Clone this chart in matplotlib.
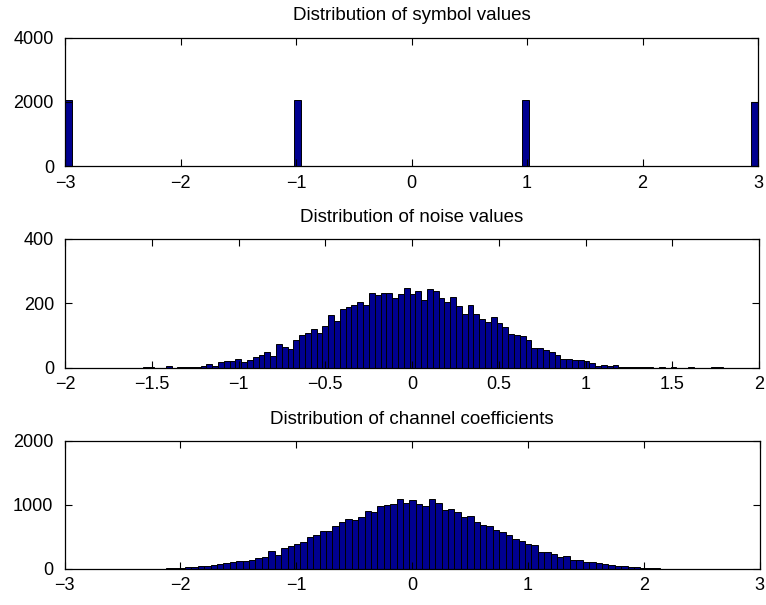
import numpy as np
import matplotlib
matplotlib.use('Agg')
import matplotlib.pyplot as plt

plt.rcParams['font.family'] = ['Liberation Sans', 'DejaVu Sans']

# symbol values: hist with 100 bins over [-3, 3]
symbol_lo, symbol_hi = -3.0, 3.0
symbol_values = [-3, -1, 1, 3]
symbol_counts = [2060, 2058, 2066, 1995]

# noise values: 100 bins between min and max of the samples
noise_lo, noise_hi = -1.553, 1.792
noise_counts = [
    1, 1, 0, 0, 4, 0, 1, 2, 3, 3,
    5, 12, 6, 17, 19, 21, 25, 17, 23, 32,
    38, 48, 35, 74, 64, 59, 87, 100, 108, 119,
    107, 129, 164, 144, 181, 187, 194, 205, 195, 231,
    226, 232, 232, 216, 229, 249, 229, 237, 209, 245,
    238, 216, 203, 221, 191, 167, 195, 165, 151, 142,
    158, 140, 125, 105, 102, 98, 87, 61, 62, 55,
    48, 39, 26, 26, 23, 22, 21, 15, 5, 8,
    6, 8, 2, 1, 1, 2, 3, 3, 0, 1,
    0, 1, 0, 0, 1, 0, 0, 0, 1, 1,
]

# channel coefficients: 100 bins between min and max
chan_lo, chan_hi = -2.792, 2.748
chan_counts = [
    1, 0, 1, 1, 0, 1, 1, 2, 1, 2,
    2, 3, 5, 8, 15, 26, 31, 36, 47, 62,
    78, 94, 104, 115, 115, 135, 161, 187, 271, 219,
    320, 352, 380, 417, 495, 526, 583, 583, 667, 724,
    776, 766, 807, 896, 880, 974, 995, 1016, 1094, 1026,
    1073, 1005, 984, 1094, 1021, 911, 927, 885, 807, 818,
    729, 687, 661, 599, 573, 526, 464, 427, 385, 370,
    260, 260, 229, 182, 193, 141, 130, 99, 99, 83,
    68, 52, 42, 36, 31, 26, 16, 10, 5, 3,
    2, 2, 1, 1, 0, 1, 2, 1, 1, 1,
]

face = '#000090'

fig = plt.figure(figsize=(7.66, 6.05), dpi=100)
W, H = 766, 605


def make_axes(left, top, right, bottom):
    return fig.add_axes([left / W, 1 - bottom / H, (right - left) / W, (bottom - top) / H])


ax1 = make_axes(65, 37.7, 758, 166.2)
ax2 = make_axes(65, 239, 759, 367.5)
ax3 = make_axes(64.5, 440.5, 759.5, 568.7)

edges = np.linspace(symbol_lo, symbol_hi, 101)
ax1.hist(symbol_values, bins=edges, weights=symbol_counts,
         color=face, edgecolor='black', linewidth=0.7)
ax1.set_xlim(-3, 3)
ax1.set_ylim(0, 4000)
ax1.set_xticks(np.arange(-3, 4, 1))
ax1.set_yticks([0, 2000, 4000])
ax1.set_title('Distribution of symbol values', fontsize=13.5, pad=13)

edges = np.linspace(noise_lo, noise_hi, 101)
centers = (edges[:-1] + edges[1:]) / 2
ax2.hist(centers, bins=edges, weights=noise_counts,
         color=face, edgecolor='black', linewidth=0.7)
ax2.set_xlim(-2, 2)
ax2.set_ylim(0, 400)
ax2.set_xticks(np.arange(-2, 2.01, 0.5))
ax2.set_xticklabels(['\u22122', '\u22121.5', '\u22121', '\u22120.5', '0', '0.5', '1', '1.5', '2'])
ax2.set_yticks([0, 200, 400])
ax2.set_title('Distribution of noise values', fontsize=13.5, pad=12)

edges = np.linspace(chan_lo, chan_hi, 101)
centers = (edges[:-1] + edges[1:]) / 2
ax3.hist(centers, bins=edges, weights=chan_counts,
         color=face, edgecolor='black', linewidth=0.7)
ax3.set_xlim(-3, 3)
ax3.set_ylim(0, 2000)
ax3.set_xticks(np.arange(-3, 4, 1))
ax3.set_yticks([0, 1000, 2000])
ax3.set_title('Distribution of channel coefficients', fontsize=13.5, pad=12)

for ax in (ax1, ax2, ax3):
    ax.tick_params(direction='in', top=True, right=True, length=5,
                   width=0.8, labelsize=13)
    ax.tick_params(axis='x', pad=6)
    ax.tick_params(axis='y', pad=8)
    for s in ax.spines.values():
        s.set_linewidth(0.9)

fig.savefig('out.png', dpi=100)
